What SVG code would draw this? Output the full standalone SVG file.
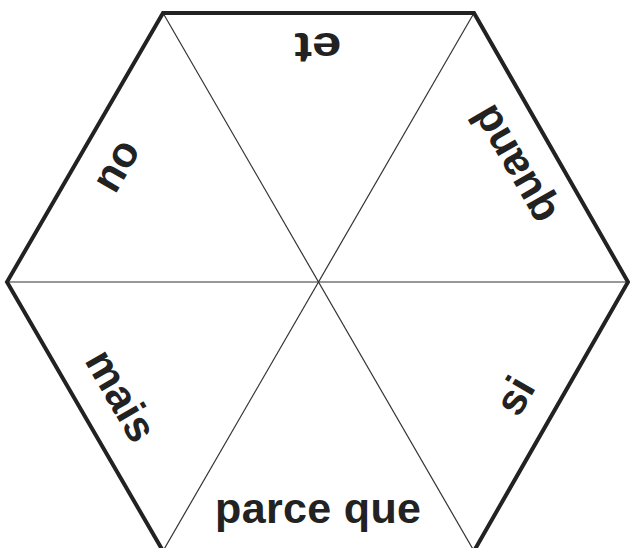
<svg xmlns="http://www.w3.org/2000/svg" width="630" height="548" viewBox="0 0 630 548">
<style>
.outer{fill:none;stroke:#222;stroke-width:4;stroke-linejoin:miter}
.thin{stroke:#333;stroke-width:1.2}
.lbl{font-family:"Liberation Sans",Arial,sans-serif;font-weight:bold;font-size:43px;fill:#222;text-anchor:middle}
</style>
<rect width="630" height="548" fill="#fff"/>
<g id="connectors">
<line class="thin" x1="7" y1="282" x2="628" y2="282"/>
<line class="thin" x1="163" y1="13" x2="474" y2="551"/>
<line class="thin" x1="474" y1="13" x2="163" y2="551"/>
</g>
<g id="hexagon">
<polygon class="outer" points="163,13 474,13 628,282 474,551 163,551 7,282"/>
</g>
<g id="label-et"><text class="lbl" x="318" y="531" textLength="47" lengthAdjust="spacingAndGlyphs" transform="rotate(180 318 282)">et</text></g>
<g id="label-quand"><text class="lbl" x="322" y="524" transform="rotate(-120 318 282)">quand</text></g>
<g id="label-si"><text class="lbl" x="318" y="524" transform="rotate(-60 318 282)">si</text></g>
<g id="label-parce-que"><text class="lbl" x="318" y="523" textLength="206">parce que</text></g>
<g id="label-mais"><text class="lbl" x="318" y="524" transform="rotate(60 318 282)">mais</text></g>
<g id="label-ou"><text class="lbl" x="318" y="524" transform="rotate(120 318 282)">ou</text></g>
</svg>
